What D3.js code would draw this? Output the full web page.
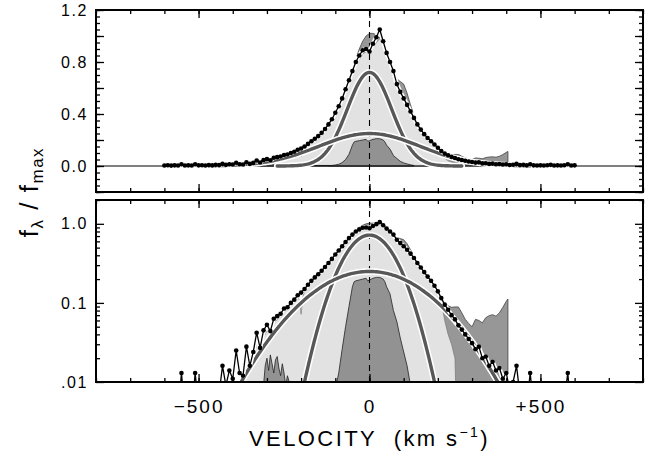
<!DOCTYPE html>
<html><head><meta charset="utf-8">
<script src="https://cdn.jsdelivr.net/npm/d3@7"></script>
<style>body{margin:0;background:#fff}</style>
</head><body><svg id="c" width="645" height="457" style="display:block"></svg>
<script>
// ---------------- DATA ----------------
// observed profile (dots), sampled every 10 km/s from -600 to +600
const obsVelStart = -600, obsVelStep = 10;
const obsFlux = [
 0.004,0.006,0.003,0.005,0.004,0.013,0.004,0.005,0.004,0.013,   // -600..-510
 0.005,0.006,0.004,0.007,0.005,0.009,0.007,0.016,0.009,0.014,   // -500..-410
 0.011,0.025,0.013,0.012,0.028,0.016,0.024,0.042,0.027,0.045,   // -400..-310
 0.053,0.044,0.063,0.068,0.073,0.085,0.088,0.100,0.110,0.125,   // -300..-210
 0.135,0.150,0.170,0.190,0.210,0.230,0.255,0.285,0.320,0.360,   // -200..-110
 0.410,0.460,0.520,0.590,0.660,0.730,0.800,0.850,0.890,0.900,   // -100..-10
 0.880,                                                         // 0
 0.940,0.990,1.050,0.960,0.870,0.800,0.730,0.630,0.570,0.520,   // 10..100
 0.470,0.420,0.370,0.320,0.280,0.245,0.215,0.190,0.165,0.140,   // 110..200
 0.115,0.095,0.082,0.070,0.062,0.052,0.046,0.040,0.035,0.031,   // 210..300
 0.026,0.028,0.020,0.021,0.016,0.018,0.014,0.015,0.011,0.013,   // 310..400
 0.008,0.010,0.016,0.007,0.009,0.005,0.013,0.005,0.004,0.005,   // 410..500
 0.004,0.006,0.009,0.004,0.005,0.004,0.006,0.013,0.004,0.005    // 510..600
];
const obsVel = obsFlux.map((_, i) => obsVelStart + i * obsVelStep);

// dark grey profile (second spectrum, ends abruptly at +405)
const darkVel = [-120,-110,-100,-90,-80,-70,-60,-50,-40,-30,-20,-10,0,10,20,30,40,50,60,70,80,90,100,110,120,130,140,150,160,170,180,190,200,210,220,230,240,250,260,270,280,290,300,310,320,330,340,350,360,370,380,390,400,405];
const darkFlux = [0.30,0.34,0.40,0.45,0.51,0.58,0.66,0.74,0.82,0.90,0.96,1.00,1.02,1.02,1.01,0.99,0.93,0.86,0.79,0.72,0.67,0.65,0.63,0.56,0.47,0.39,0.33,0.285,0.25,0.22,0.19,0.165,0.14,0.118,0.10,0.092,0.088,0.089,0.089,0.075,0.062,0.055,0.050,0.062,0.060,0.056,0.065,0.069,0.071,0.068,0.075,0.088,0.105,0.112];

// light grey profile
const lightVel = [-400,-390,-380,-370,-360,-350,-340,-330,-320,-310,-300,-290,-280,-270,-260,-250,-240,-230,-220,-210,-205,-200,-195,-190,-180,-170,-160,-150,-140,-130,-120,-110,-100,-90,-80,-70,-60,-50,-40,-30,-20,-10,0,10,20,30,40,50,60,70,80,90,100,110,120,130,140,150,160,170,180,190,200,210,220,230,240,250,255];
const lightFlux = [0.003,0.006,0.009,0.011,0.015,0.017,0.021,0.030,0.029,0.037,0.044,0.046,0.055,0.062,0.069,0.077,0.084,0.093,0.103,0.115,0.110,0.072,0.118,0.140,0.160,0.180,0.200,0.220,0.245,0.272,0.305,0.345,0.39,0.44,0.50,0.56,0.63,0.70,0.77,0.82,0.86,0.88,0.88,0.91,0.95,0.98,0.93,0.85,0.77,0.70,0.62,0.56,0.51,0.46,0.41,0.36,0.31,0.27,0.235,0.205,0.18,0.155,0.13,0.105,0.06,0.04,0.03,0.02,0.003];

// dark core component (+ small wing humps)
const coreVel = [-320,-310,-305,-300,-295,-290,-285,-280,-275,-270,-265,-260,-255,-250,-245,-240,-235,-230,-220,-110,-100,-90,-80,-70,-60,-50,-45,-40,-30,-20,-10,-5,0,10,20,30,40,45,50,60,70,80,90,100,110,120,130];
const coreFlux = [0.004,0.009,0.016,0.020,0.014,0.022,0.017,0.013,0.019,0.021,0.015,0.012,0.017,0.013,0.009,0.012,0.010,0.006,0.004,0.004,0.008,0.013,0.026,0.05,0.09,0.16,0.185,0.19,0.195,0.20,0.205,0.19,0.195,0.205,0.21,0.21,0.20,0.185,0.16,0.13,0.08,0.058,0.036,0.024,0.016,0.009,0.004];

// Gaussian fit components (peak, sigma in km/s, plotted half-extent in km/s), centred at 0
const gaussAmp = [0.72, 0.25];
const gaussSigma = [65, 148];
const gaussExtent = [270, 470];

// axes
const xMinorTicks = [-800,-700,-600,-500,-400,-300,-200,-100,0,100,200,300,400,500,600,700,800];
const xMajorTicks = [-500, 0, 500];
const xTickLabels = ["\u2212500", "0", "+500"];
const linMinorTicks = [-0.2,-0.15,-0.1,-0.05,0,0.05,0.1,0.15,0.2,0.25,0.3,0.35,0.4,0.45,0.5,0.55,0.6,0.65,0.7,0.75,0.8,0.85,0.9,0.95,1.0,1.05,1.1,1.15,1.2];
const linMajorTicks = [-0.2,0,0.2,0.4,0.6,0.8,1.0,1.2];
const linLabelTicks = [0, 0.4, 0.8, 1.2];
const linLabels = ["0.0","0.4","0.8","1.2"];
const logMinorTicks = [0.02,0.03,0.04,0.05,0.06,0.07,0.08,0.09,0.2,0.3,0.4,0.5,0.6,0.7,0.8,0.9,2];
const logMajorTicks = [0.01,0.1,1];
const logLabels = [".01","0.1","1.0"];

// ---------------- DRAW ----------------
const svg = d3.select("#c");
const X0 = 96, X1 = 643;
const x = d3.scaleLinear([-800, 800], [X0, X1]);
const panels = [
  {id:"lin", top:10, bottom:192, y:d3.scaleLinear([-0.2, 1.2], [192, 10]), log:false},
  {id:"log", top:200, bottom:382, y:d3.scaleLog([0.01, 2], [382, 200]), log:true}
];
const zip = (a, b) => a.map((v, i) => [v, b[i]]);
const obs = zip(obsVel, obsFlux);
const dark = zip(darkVel, darkFlux);
const light = zip(lightVel, lightFlux);
const core = zip(coreVel, coreFlux);
const gaussians = gaussAmp.map((a, k) => d3.range(-gaussExtent[k], gaussExtent[k] + 1, 4)
  .map(v => [v, a * Math.exp(-v * v / (2 * gaussSigma[k] * gaussSigma[k]))]));

const FONT = "'Liberation Sans', Arial, Helvetica, sans-serif";

panels.forEach(p => {
  const fy = v => p.y(p.log ? Math.max(v, 1e-5) : v);
  const clipId = "clip-" + p.id;
  svg.append("clipPath").attr("id", clipId).append("rect")
    .attr("x", X0).attr("y", p.top).attr("width", X1 - X0).attr("height", p.bottom - p.top);
  const g = svg.append("g").attr("clip-path", `url(#${clipId})`);

  const base = p.log ? p.bottom + 2 : p.y(0);
  const area = d3.area().x(d => x(d[0])).y0(base).y1(d => fy(d[1]));
  const line = d3.line().x(d => x(d[0])).y(d => fy(d[1]));

  g.append("path").datum(dark).attr("d", area).attr("fill", "#979797").attr("stroke", "#333").attr("stroke-width", 0.7);
  g.append("path").datum(light).attr("d", area).attr("fill", "#e2e2e2").attr("stroke", "#777").attr("stroke-width", 0.7);
  g.append("path").datum(core).attr("d", area).attr("fill", "#929292").attr("stroke", "#222").attr("stroke-width", 0.8);

  if (!p.log) {
    g.append("line").attr("x1", X0).attr("x2", X1).attr("y1", p.y(0)).attr("y2", p.y(0))
      .attr("stroke", "#000").attr("stroke-width", 1.2);
  }
  g.append("line").attr("x1", x(0)).attr("x2", x(0)).attr("y1", p.top).attr("y2", p.bottom)
    .attr("stroke", "#000").attr("stroke-width", 1.1).attr("stroke-dasharray", "6,5");

  gaussians.forEach(gd => {
    g.append("path").datum(gd).attr("d", line).attr("fill", "none").attr("stroke", "#fff").attr("stroke-width", 6.5).attr("stroke-linecap", "round");
    g.append("path").datum(gd).attr("d", line).attr("fill", "none").attr("stroke", "#585858").attr("stroke-width", 3.4).attr("stroke-linecap", "round");
  });

  g.append("path").datum(obs).attr("d", line).attr("fill", "none").attr("stroke", "#fff").attr("stroke-width", 4.5).attr("stroke-linejoin", "round");
  g.append("path").datum(obs).attr("d", line).attr("fill", "none").attr("stroke", "#000").attr("stroke-width", 1.3).attr("stroke-linejoin", "round");
  g.selectAll("circle.obs").data(obs).join("circle").attr("class", "obs")
    .attr("cx", d => x(d[0])).attr("cy", d => fy(d[1])).attr("r", 2.3).attr("fill", "#000");

  // axes (inward ticks)
  const L = X1 - X0;
  const strip = s => s.call(a => a.select(".domain").remove()).selectAll("line").attr("stroke", "#000").attr("stroke-width", 1.3);
  const minY = p.log ? logMinorTicks : linMinorTicks;
  const majY = p.log ? logMajorTicks : linMajorTicks;
  [[d3.axisBottom, p.bottom], [d3.axisTop, p.top]].forEach(([ax, yy]) => {
    strip(svg.append("g").attr("transform", `translate(0,${yy})`).call(ax(x).tickValues(xMinorTicks).tickSize(-4).tickFormat("")));
    strip(svg.append("g").attr("transform", `translate(0,${yy})`).call(ax(x).tickValues(xMajorTicks).tickSize(-8).tickFormat("")));
  });
  [[d3.axisLeft, X0], [d3.axisRight, X1]].forEach(([ax, xx]) => {
    strip(svg.append("g").attr("transform", `translate(${xx},0)`).call(ax(p.y).tickValues(minY).tickSize(-4).tickFormat("")));
    strip(svg.append("g").attr("transform", `translate(${xx},0)`).call(ax(p.y).tickValues(majY).tickSize(-8).tickFormat("")));
  });
  // y labels
  const lv = p.log ? logMajorTicks : linLabelTicks;
  const lt = p.log ? logLabels : linLabels;
  const ya = svg.append("g").attr("transform", `translate(${X0},0)`)
    .call(d3.axisLeft(p.y).tickValues(lv).tickSize(0).tickPadding(8).tickFormat((d, i) => lt[i]));
  ya.select(".domain").remove();
  ya.selectAll("text").attr("font-family", FONT).attr("font-size", 16).attr("letter-spacing", "1.6px").attr("fill", "#000");

  // frame
  svg.append("rect").attr("x", X0).attr("y", p.top).attr("width", L).attr("height", p.bottom - p.top)
    .attr("fill", "none").attr("stroke", "#000").attr("stroke-width", 2);
});

// x labels
const xa = svg.append("g").attr("transform", `translate(0,382)`)
  .call(d3.axisBottom(x).tickValues(xMajorTicks).tickSize(0).tickPadding(18).tickFormat((d, i) => xTickLabels[i]));
xa.select(".domain").remove();
xa.selectAll("text").attr("font-family", FONT).attr("font-size", 19).attr("letter-spacing", "2px").attr("fill", "#000");

// x title
const xt = svg.append("text").attr("x", x(0)).attr("y", 446).attr("text-anchor", "middle")
  .attr("font-family", FONT).attr("font-size", 22).attr("letter-spacing", "2.4px").style("white-space", "pre");
xt.append("tspan").text("VELOCITY  (km s");
xt.append("tspan").attr("font-size", 14).attr("dy", -9).text("\u22121");
xt.append("tspan").attr("dy", 9).text(")");

// y title
const yt = svg.append("text").attr("transform", "translate(38,192) rotate(-90)").attr("text-anchor", "middle")
  .attr("font-family", FONT).attr("font-size", 26).attr("letter-spacing", "1.5px").style("white-space", "pre");
yt.append("tspan").text("f");
yt.append("tspan").attr("font-size", 17).attr("dy", 5).text("\u03bb");
yt.append("tspan").attr("dy", -5).text(" / f");
yt.append("tspan").attr("font-size", 17).attr("dy", 5).text("max");
</script></body></html>
